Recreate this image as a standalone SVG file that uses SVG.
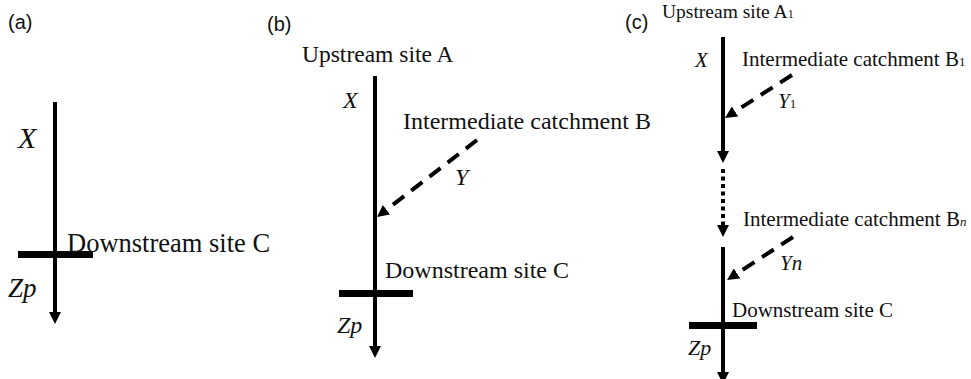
<svg xmlns="http://www.w3.org/2000/svg" width="971" height="379" viewBox="0 0 971 379">
<defs>
<style>
.lbl{font-family:"Liberation Sans",Arial,sans-serif;font-size:20px;fill:#111}
.t{font-family:"Liberation Serif","Times New Roman",serif;fill:#111}
.i{font-style:italic}
.flow{stroke:#000;stroke-width:4;fill:none}
.dash{stroke:#000;stroke-width:4;fill:none;stroke-dasharray:14 9}
.dot{stroke:#000;stroke-width:4;fill:none;stroke-dasharray:4 3.5}
.bar{stroke:#000;stroke-width:7}
</style>
<marker id="ah" markerUnits="userSpaceOnUse" viewBox="0 0 12 12" markerWidth="12" markerHeight="12" refX="0" refY="6" orient="auto">
<path d="M0,0 L12,6 L0,12 z" fill="#000"/>
</marker>
</defs>
<rect width="971" height="379" fill="#fff"/>

<g id="panel-a">
<text class="lbl" x="8" y="29">(a)</text>
<g id="a-X"><text class="t i" x="18" y="148" font-size="30">X</text></g>
<g id="a-C"><line class="bar" x1="18" y1="254.5" x2="93" y2="254.5"/><text class="t" x="67" y="252" font-size="26.5">Downstream site C</text></g>
<g id="a-Zp"><text class="t i" x="8" y="297" font-size="27">Zp</text></g>
</g>

<g id="panel-b">
<text class="lbl" x="267" y="31">(b)</text>
<g id="b-A"><text class="t" x="302" y="62" font-size="23.5">Upstream site A</text></g>
<g id="b-X"><text class="t i" x="343" y="108" font-size="24">X</text></g>
<g id="b-B"><text class="t" x="403" y="129" font-size="24">Intermediate catchment B</text></g>
<g id="b-Y"><text class="t i" x="455" y="185" font-size="24">Y</text></g>
<g id="b-C"><line class="bar" x1="339" y1="293.5" x2="413" y2="293.5"/><text class="t" x="385" y="278" font-size="24">Downstream site C</text></g>
<g id="b-Zp"><text class="t i" x="337" y="333" font-size="24">Zp</text></g>
</g>

<g id="panel-c">
<text class="lbl" x="625" y="29">(c)</text>
<g id="c-A1"><text class="t" x="662" y="18" font-size="19.5">Upstream site A<tspan font-size="12">1</tspan></text></g>
<g id="c-X"><text class="t i" x="695" y="67" font-size="21">X</text></g>
<g id="c-B1"><text class="t" x="742" y="66" font-size="21">Intermediate catchment B<tspan font-size="13">1</tspan></text></g>
<g id="c-Y1"><text class="t i" x="778" y="108" font-size="21">Y<tspan font-style="normal" font-size="13">1</tspan></text></g>
<g id="c-Bn"><text class="t" x="743" y="226" font-size="21">Intermediate catchment B<tspan class="i" font-size="13">n</tspan></text></g>
<g id="c-Yn"><text class="t i" x="780" y="270" font-size="21">Yn</text></g>
<g id="c-C"><line class="bar" x1="689" y1="325.5" x2="757" y2="325.5"/><text class="t" x="732" y="317" font-size="21">Downstream site C</text></g>
<g id="c-Zp"><text class="t i" x="688" y="355" font-size="22">Zp</text></g>
</g>

<g id="connectors">
<line class="flow" x1="55" y1="102" x2="55" y2="312" marker-end="url(#ah)"/>
<line class="flow" x1="375" y1="76" x2="375" y2="346" marker-end="url(#ah)"/>
<line class="dash" x1="477" y1="140" x2="386.5" y2="209.7" marker-end="url(#ah)"/>
<line class="flow" x1="723" y1="37" x2="723" y2="151" marker-end="url(#ah)"/>
<line class="dash" x1="792" y1="75" x2="735.1" y2="111.5" marker-end="url(#ah)"/>
<line class="dot" x1="723" y1="169" x2="723" y2="225" marker-end="url(#ah)"/>
<line class="flow" x1="723" y1="247" x2="723" y2="372" marker-end="url(#ah)"/>
<line class="dash" x1="793" y1="237" x2="737.1" y2="273.4" marker-end="url(#ah)"/>
</g>
</svg>
